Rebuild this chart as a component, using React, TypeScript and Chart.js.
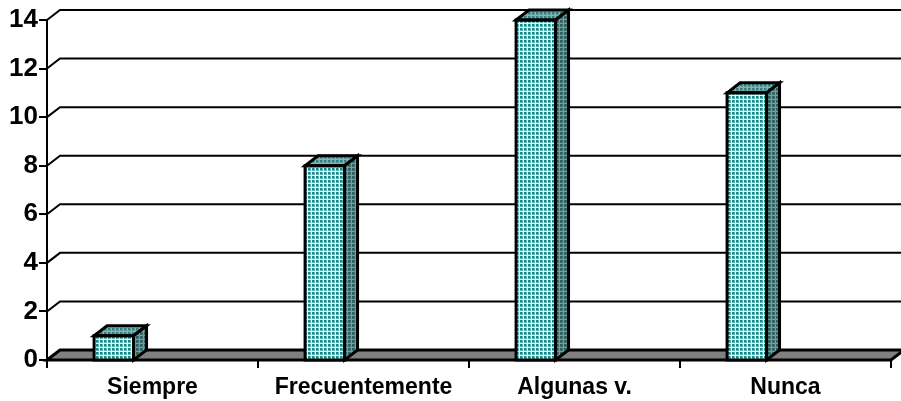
import React, { useEffect, useRef } from "react";
import { Chart, registerables } from "chart.js";

Chart.register(...registerables);

const categories = ["Siempre", "Frecuentemente", "Algunas v.", "Nunca"];
const seriesValues = [1, 8, 14, 11];
const yTicks = [0, 2, 4, 6, 8, 10, 12, 14];

const DX = 13;
const DY = -10;

function makePattern(ctx: CanvasRenderingContext2D, fg: string, mid: string, bg: string) {
  const c = document.createElement("canvas");
  c.width = 4;
  c.height = 4;
  const p = c.getContext("2d")!;
  p.fillStyle = bg;
  p.fillRect(0, 0, 4, 4);
  p.fillStyle = mid;
  p.fillRect(0, 2, 3, 1);
  p.fillRect(2, 0, 1, 3);
  p.fillStyle = fg;
  p.fillRect(0, 0, 2, 2);
  return ctx.createPattern(c, "repeat")!;
}

const scene3d = {
  id: "scene3d",
  beforeDatasetsDraw(chart: any) {
    const { ctx } = chart;
    const x = chart.scales.x;
    const y = chart.scales.y;
    const l = x.left;
    const r = x.right;
    const b = y.bottom;
    ctx.save();
    ctx.strokeStyle = "#000";
    ctx.lineWidth = 2;
    // floor
    ctx.beginPath();
    ctx.moveTo(l, b);
    ctx.lineTo(l + DX, b + DY);
    ctx.lineTo(r + DX, b + DY);
    ctx.lineTo(r, b);
    ctx.closePath();
    ctx.fillStyle = "#808080";
    ctx.fill();
    ctx.lineWidth = 3;
    ctx.stroke();
    ctx.lineWidth = 2;
    // gridlines on the back wall and side wall
    for (const t of yTicks) {
      if (t === 0) continue;
      const py = y.getPixelForValue(t);
      ctx.beginPath();
      ctx.moveTo(l, py);
      ctx.lineTo(l + DX, py + DY);
      ctx.lineTo(r + DX, py + DY);
      ctx.stroke();
    }
    ctx.restore();
  },
  afterDatasetsDraw(chart: any) {
    const { ctx } = chart;
    const y = chart.scales.y;
    const base = y.getPixelForValue(0);
    const meta = chart.getDatasetMeta(0);
    ctx.save();
    ctx.lineWidth = 3;
    ctx.strokeStyle = "#000";
    ctx.lineJoin = "miter";
    meta.data.forEach((bar: any) => {
      const half = bar.width / 2;
      const x0 = bar.x - half;
      const x1 = bar.x + half;
      const top = bar.y;
      ctx.fillStyle = makePattern(ctx, "#2f7f7f", "#5f9a9a", "#8fb0b0");
      ctx.beginPath();
      ctx.moveTo(x0, top);
      ctx.lineTo(x0 + DX, top + DY);
      ctx.lineTo(x1 + DX, top + DY);
      ctx.lineTo(x1, top);
      ctx.closePath();
      ctx.fill();
      ctx.stroke();
      ctx.fillStyle = makePattern(ctx, "#2a6060", "#406f6f", "#7f9a9a");
      ctx.beginPath();
      ctx.moveTo(x1, top);
      ctx.lineTo(x1 + DX, top + DY);
      ctx.lineTo(x1 + DX, base + DY);
      ctx.lineTo(x1, base);
      ctx.closePath();
      ctx.fill();
      ctx.stroke();
      ctx.beginPath();
      ctx.rect(x0, top, x1 - x0, base - top);
      ctx.stroke();
    });
    ctx.restore();
  },
};

export default function App() {
  const ref = useRef<HTMLCanvasElement | null>(null);
  useEffect(() => {
    const canvas = ref.current!;
    const ctx = canvas.getContext("2d")!;
    const chart = new Chart(canvas, {
      type: "bar",
      data: {
        labels: categories,
        datasets: [
          {
            label: "Serie 1",
            data: seriesValues,
            backgroundColor: makePattern(ctx, "#128a8a", "#5fb0b0", "#eef8f8"),
            borderWidth: 0,
            barPercentage: 1.02,
            categoryPercentage: 0.55,
          },
          { label: "Serie 2", data: [], barPercentage: 1.02, categoryPercentage: 0.55 },
          { label: "Serie 3", data: [], barPercentage: 1.02, categoryPercentage: 0.55 },
        ],
      },
      options: {
        responsive: false,
        animation: false,
        layout: { padding: { left: 0, right: 10, top: 20, bottom: 0 } },
        plugins: { legend: { display: false }, tooltip: { enabled: false } },
        scales: {
          x: {
            afterFit(s: any) { s.height = 41; },
            grid: { display: true, drawOnChartArea: false, color: "#000", lineWidth: 2, tickLength: 8 },
            border: { color: "#000", width: 2 },
            ticks: { color: "#000", font: { family: "Liberation Sans", size: 23, weight: "bold" }, padding: 6, maxRotation: 0, autoSkip: false },
          },
          y: {
            min: 0,
            max: 14,
            afterFit(s: any) { s.width = 47; },
            grid: { display: true, drawOnChartArea: false, color: "#000", lineWidth: 2, tickLength: 8 },
            border: { color: "#000", width: 2 },
            ticks: { stepSize: 2, color: "#000", font: { family: "Liberation Sans", size: 26, weight: "bold" }, padding: 1 },
          },
        },
      },
      plugins: [scene3d],
    } as any);
    return () => chart.destroy();
  }, []);
  return (
    <div style={{ position: "absolute", left: 0, top: 0, width: 901, height: 401, background: "#fff" }}>
      <canvas ref={ref} width={901} height={401} style={{ display: "block" }} />
    </div>
  );
}
